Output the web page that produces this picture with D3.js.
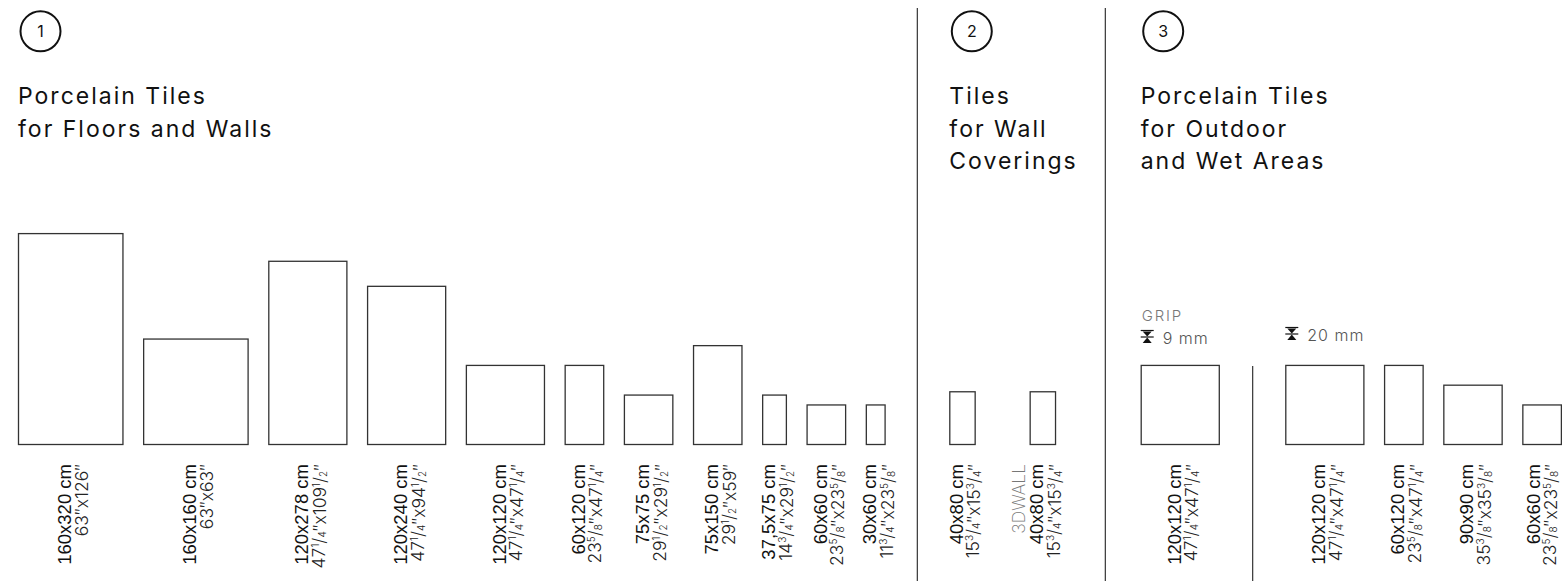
<!DOCTYPE html>
<html>
<head>
<meta charset="utf-8">
<script src="https://cdn.jsdelivr.net/npm/d3@7"></script>
<style>
  body { margin: 0; background: #fff; }
  svg { display: block; }
  .title { font-family: Inter, "Noto Sans", sans-serif; font-size: 23px; letter-spacing: 2px; fill: #111; }
  .num { font-family: Inter, sans-serif; font-size: 16px; fill: #111; }
  .size { font-family: "Liberation Sans", Arial, sans-serif; font-size: 18.5px; fill: #111; }
  .inch { font-family: Inter, "Liberation Sans", sans-serif; font-weight: 300; font-size: 17.5px; fill: #222; }
  .prefix { font-family: Inter, "Liberation Sans", sans-serif; font-weight: 200; font-size: 17.5px; fill: #777; }
  .note { font-family: Inter, "Liberation Sans", sans-serif; font-weight: 300; font-size: 16px; letter-spacing: 1px; fill: #555; }
  .grip { font-family: Inter, "Liberation Sans", sans-serif; font-weight: 300; font-size: 15px; letter-spacing: 1.8px; fill: #777; }
</style>
</head>
<body>
<svg width="1562" height="581"></svg>
<script>
const svg = d3.select("svg")

// sections
const sectionNumbers = ["1", "2", "3"]
const sectionTitles = [
  ["Porcelain Tiles", "for Floors and Walls"],
  ["Tiles", "for Wall", "Coverings"],
  ["Porcelain Tiles", "for Outdoor", "and Wet Areas"]
]

// tiles (cm)
const tileSizes = [
  "160x320 cm", "160x160 cm", "120x278 cm", "120x240 cm", "120x120 cm", "60x120 cm",
  "75x75 cm", "75x150 cm", "37,5x75 cm", "60x60 cm", "30x60 cm",
  "40x80 cm", "40x80 cm",
  "120x120 cm",
  "120x120 cm", "60x120 cm", "90x90 cm", "60x60 cm"
]
const tileInches = [
  '63"x126"', '63"x63"', '47{1/4}"x109{1/2}"', '47{1/4}"x94{1/2}"', '47{1/4}"x47{1/4}"',
  '23{5/8}"x47{1/4}"', '29{1/2}"x29{1/2}"', '29{1/2}"x59"', '14{3/4}"x29{1/2}"',
  '23{5/8}"x23{5/8}"', '11{3/4}"x23{5/8}"',
  '15{3/4}"x15{3/4}"', '15{3/4}"x15{3/4}"',
  '47{1/4}"x47{1/4}"',
  '47{1/4}"x47{1/4}"', '23{5/8}"x47{1/4}"', '35{3/8}"x35{3/8}"', '23{5/8}"x23{5/8}"'
]
const tileWidths = [160, 160, 120, 120, 120, 60, 75, 75, 37.5, 60, 30, 40, 40, 120, 120, 60, 90, 60]
const tileHeights = [320, 160, 278, 240, 120, 120, 75, 150, 75, 60, 60, 80, 80, 120, 120, 120, 90, 60]
const tileGroups = [0, 0, 0, 0, 0, 0, 0, 0, 0, 0, 0, 1, 1, 2, 3, 3, 3, 3]
const tilePrefixes = ["", "", "", "", "", "", "", "", "", "", "", "", "3DWALL", "", "", "", "", ""]

// thickness notes per group
const noteGroups = [2, 3]
const noteTexts = ["9 mm", "20 mm"]
const noteTags = ["GRIP", ""]

// layout
const sectionX = [18, 949.3, 1140.7]
const groupStart = [18, 949.3, 1140.7, 1285.3]
const groupGap = [19.7, 54, 19.7, 19.7]
const dividers = [917.3, 1105.3]
const subDivider = 1252.7
const floorY = 444.5
const labelTop = 464

const size = d3.scaleLinear().domain([0, 320]).range([0, 210.9])

const tiles = tileSizes.map((s, i) => ({
  size: s, inch: tileInches[i], w: tileWidths[i], h: tileHeights[i],
  group: tileGroups[i], prefix: tilePrefixes[i]
}))
// cumulative x within each group
const cursor = groupStart.slice()
tiles.forEach(d => {
  d.x = cursor[d.group]
  cursor[d.group] += size(d.w) + groupGap[d.group]
})

// dividers
svg.selectAll(".divider").data(dividers).join("line")
  .attr("x1", d => d).attr("x2", d => d)
  .attr("y1", 8).attr("y2", 581)
  .attr("stroke", "#222").attr("stroke-width", 1.1)
svg.append("line")
  .attr("x1", subDivider).attr("x2", subDivider)
  .attr("y1", 366).attr("y2", 581)
  .attr("stroke", "#222").attr("stroke-width", 1.1)

// headers
const head = svg.selectAll(".head").data(sectionNumbers).join("g")
  .attr("transform", (d, i) => `translate(${sectionX[i]},0)`)
head.append("circle")
  .attr("cx", 22.5).attr("cy", 31.3).attr("r", 20)
  .attr("fill", "none").attr("stroke", "#111").attr("stroke-width", 2)
head.append("text").attr("class", "num")
  .attr("x", 22.5).attr("y", 37).attr("text-anchor", "middle")
  .text(d => d)
head.append("text").attr("class", "title")
  .selectAll("tspan").data((d, i) => sectionTitles[i]).join("tspan")
  .attr("x", 0).attr("y", (d, i) => 104 + i * 32.6)
  .text(d => d)

// tiles
svg.selectAll(".tile").data(tiles).join("rect")
  .attr("x", d => d.x + 0.5)
  .attr("y", d => floorY - size(d.h))
  .attr("width", d => size(d.w) - 1)
  .attr("height", d => size(d.h))
  .attr("fill", "none").attr("stroke", "#333").attr("stroke-width", 1.3)

// labels
const addInch = (sel, str) => {
  str.split(/(\{\d\/\d\})/).filter(p => p).forEach(p => {
    const m = p.match(/\{(\d)\/(\d)\}/)
    if (m) {
      sel.append("tspan").attr("font-size", 10).attr("dy", -6).text(m[1])
      sel.append("tspan").attr("dy", 6).text("/")
      sel.append("tspan").attr("font-size", 10).attr("dy", 1).text(m[2])
      sel.append("tspan").attr("dy", -1).text("")
    } else {
      sel.append("tspan").text(p.replace(/"/g, "\u2033"))
    }
  })
}
const label = svg.selectAll(".label").data(tiles).join("g")
  .attr("transform", d => `translate(${Math.min(d.x + size(d.w) / 2, 1539)},${labelTop}) rotate(-90)`)
label.filter(d => d.prefix).append("text").attr("class", "prefix")
  .attr("text-anchor", "end").attr("y", -17.5)
  .text(d => d.prefix)
label.append("text").attr("class", "size")
  .attr("text-anchor", "end").attr("y", 0.5)
  .text(d => d.size)
label.append("text").attr("class", "inch")
  .attr("text-anchor", "end").attr("y", 17)
  .each(function (d) { addInch(d3.select(this), d.inch) })

// thickness notes
noteGroups.forEach((g, i) => {
  const x0 = groupStart[g]
  const by = noteTags[i] ? 344 : 341
  if (noteTags[i]) {
    svg.append("text").attr("class", "grip").attr("x", x0 + 1).attr("y", 320.7).text(noteTags[i])
  }
  const ic = svg.append("g").attr("transform", `translate(${x0},${by - 14})`)
  ic.append("line").attr("x1", 0).attr("x2", 13).attr("y1", 0.5).attr("y2", 0.5).attr("stroke", "#111").attr("stroke-width", 1.2)
  ic.append("line").attr("x1", 0).attr("x2", 13).attr("y1", 7).attr("y2", 7).attr("stroke", "#111").attr("stroke-width", 1.2)
  ic.append("path").attr("d", "M2,1.5 L11,1.5 L6.5,6.5 Z").attr("fill", "#111")
  ic.append("path").attr("d", "M2,13 L11,13 L6.5,7.5 Z").attr("fill", "#111")
  svg.append("text").attr("class", "note").attr("x", x0 + 22).attr("y", by).text(noteTexts[i])
})
</script>
</body>
</html>
